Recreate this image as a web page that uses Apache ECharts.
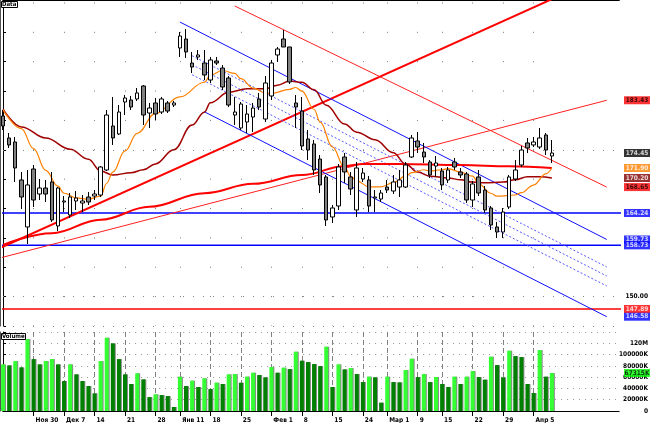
<!DOCTYPE html>
<html><head><meta charset="utf-8">
<script src="https://cdn.jsdelivr.net/npm/echarts@6/dist/echarts.min.js"></script>
<style>html,body{margin:0;padding:0;background:#fff}#c{width:650px;height:423px}</style>
</head><body><div id="c"></div>
<script>
// ---------------- DATA ----------------
const dates = [
'2009-11-23','2009-11-24','2009-11-25','2009-11-26','2009-11-27',
'2009-11-30','2009-12-01','2009-12-02','2009-12-03','2009-12-04',
'2009-12-07','2009-12-08','2009-12-09','2009-12-10','2009-12-11',
'2009-12-14','2009-12-15','2009-12-16','2009-12-17','2009-12-18',
'2009-12-21','2009-12-22','2009-12-23','2009-12-24','2009-12-25',
'2009-12-28','2009-12-29','2009-12-30','2009-12-31',
'2010-01-11','2010-01-12','2010-01-13','2010-01-14','2010-01-15',
'2010-01-18','2010-01-19','2010-01-20','2010-01-21','2010-01-22',
'2010-01-25','2010-01-26','2010-01-27','2010-01-28','2010-01-29',
'2010-02-01','2010-02-02','2010-02-03','2010-02-04','2010-02-05',
'2010-02-08','2010-02-09','2010-02-10','2010-02-11','2010-02-12',
'2010-02-15','2010-02-16','2010-02-17','2010-02-18','2010-02-19',
'2010-02-24','2010-02-25','2010-02-26','2010-02-27',
'2010-03-01','2010-03-02','2010-03-03','2010-03-04','2010-03-05',
'2010-03-09','2010-03-10','2010-03-11','2010-03-12',
'2010-03-15','2010-03-16','2010-03-17','2010-03-18','2010-03-19',
'2010-03-22','2010-03-23','2010-03-24','2010-03-25','2010-03-26',
'2010-03-29','2010-03-30','2010-03-31','2010-04-01','2010-04-02',
'2010-04-05','2010-04-06','2010-04-07','2010-04-08'];

const open = [180.75,177.01,176.33,169.86,161.86,171.73,167.47,168.49,169.52,162.03,
166.11,163.90,166.28,165.94,166.96,167.13,167.30,171.56,179.05,177.69,
183.14,183.48,183.65,185.86,181.26,182.97,181.43,182.97,182.62,192.33,
193.86,189.77,190.80,189.77,186.88,190.12,188.92,187.22,180.92,178.71,
179.73,180.58,183.65,180.24,184.16,191.14,193.86,192.50,182.97,181.60,
176.84,175.99,173.43,170.37,163.56,165.43,173.77,170.37,164.75,170.03,
169.86,166.79,166.62,168.66,167.98,168.66,168.66,173.77,176.50,174.62,
172.92,172.24,171.39,169.86,172.92,171.22,170.88,166.45,170.37,168.15,
165.09,161.86,161.00,165.26,170.03,172.41,176.16,175.82,175.47,177.52,
173.94];
const close = [179.05,175.82,171.90,166.96,169.01,166.45,168.49,167.47,163.05,168.49,
166.28,166.96,166.79,166.28,166.11,167.47,172.07,180.92,177.01,181.43,
183.82,182.28,184.67,180.92,182.11,181.09,183.65,181.60,182.97,194.37,
191.65,189.09,191.14,187.73,190.29,189.77,185.69,182.62,181.43,182.79,
181.09,182.11,182.28,186.37,189.77,192.16,192.50,186.54,182.28,175.64,
174.96,171.56,169.01,163.05,165.09,172.07,171.22,168.32,171.90,171.05,
165.43,166.96,167.64,168.15,169.52,169.86,172.41,177.01,175.47,173.77,
170.71,172.75,169.01,171.56,172.07,170.71,166.45,169.18,167.64,164.75,
162.20,161.00,164.41,170.37,171.56,174.96,175.30,176.33,177.01,174.96,
174.45];
const low = [178.37,175.30,169.52,164.92,158.96,165.26,166.45,166.11,162.71,161.17,
164.41,163.39,164.75,164.41,165.60,166.45,166.96,171.39,175.82,177.52,
180.92,181.77,183.31,179.22,178.71,180.07,181.09,181.26,182.28,190.80,
190.63,188.07,190.29,186.88,186.37,189.43,185.18,182.28,179.22,178.37,
177.86,178.03,181.77,179.73,183.48,189.94,192.50,186.20,178.71,174.96,
173.26,170.71,167.64,162.03,162.54,164.75,169.35,167.30,163.56,169.52,
164.41,164.41,166.11,167.64,167.47,166.96,168.49,173.60,174.45,172.75,
170.20,170.37,168.15,169.35,171.56,170.20,165.94,165.26,167.13,164.24,
161.34,159.98,159.98,164.92,169.69,172.07,174.45,175.47,175.13,174.11,
172.75];
const high = [181.77,177.86,177.18,171.22,171.56,172.41,170.03,169.86,171.22,168.66,
167.13,167.64,167.98,167.30,167.81,168.15,172.24,181.77,183.99,182.62,
184.33,184.16,185.52,186.03,182.97,183.82,183.99,183.31,183.31,195.05,
195.56,191.65,191.99,191.99,190.80,190.80,189.43,187.56,183.99,183.14,
182.62,182.97,184.67,187.56,190.29,192.50,195.39,192.50,184.33,183.99,
178.37,176.67,174.11,170.71,165.60,172.58,174.45,171.22,172.92,171.90,
170.54,168.15,168.15,169.86,170.71,171.56,172.92,177.52,178.03,176.16,
173.26,173.94,171.90,172.07,173.60,171.90,171.22,169.69,171.56,168.84,
165.43,162.71,165.09,170.71,173.26,175.64,177.01,177.18,178.71,177.86,
176.67];
// volume, thousands of shares
const volume = [82600,80800,88500,77300,127400,92000,82600,88500,92000,82600,
53100,82600,64900,53100,44200,31300,88500,129800,119800,92000,
64900,47800,66700,56000,24800,29500,28300,26500,7100,60800,
44200,53700,42500,57800,38900,50100,47800,64900,65500,50100,
60800,67800,63700,59600,77900,67800,76700,74300,105000,89100,
86700,83200,79600,113900,42500,82600,73700,76100,65500,51300,
60800,59600,14700,60800,51300,50700,72600,92600,60200,65500,
51300,60200,47800,42500,60800,47800,60800,70800,60200,55500,
96200,81400,59600,106800,97300,95600,47800,31900,108000,60800,
67315];

const tickDates = ['2009-11-30','2009-12-07','2009-12-14','2009-12-21','2009-12-28','2010-01-11',
'2010-01-18','2010-01-25','2010-02-01','2010-02-08','2010-02-15','2010-02-24','2010-03-01',
'2010-03-09','2010-03-15','2010-03-22','2010-03-29','2010-04-05'];
const tickLabels = ['Ноя 30','Дек 7','14','21','28','Янв 11','18','25','Фев 1','8','15','24','Мар 1','9','15','22','29','Апр 5'];

// moving averages: [bar index, price]
const maShort = [[0,181.8],[3,178.6],[5,175.2],[7,171.5],[9,168.8],[10,167.6],[12,166.8],[14,166.6],[16,167.1],[17,169.3],[18,171.2],[20,174.8],[22,177.8],[25,181.2],[29,184.0],[33,186.5],[34,187.7],[36,188.5],[38,188.0],[39,187.1],[41,185.5],[43,184.7],[44,184.6],[47,185.3],[48,185.6],[49,185.0],[51,181.9],[52,179.7],[54,175.5],[56,172.0],[57,170.5],[58,169.7],[60,168.7],[62,168.7],[64,169.4],[66,170.5],[67,171.1],[69,171.6],[70,171.4],[72,171.6],[73,171.8],[75,171.2],[77,170.5],[78,169.2],[80,167.6],[81,167.1],[84,167.3],[85,167.7],[87,169.0],[89,170.9],[90,171.9]];
const maMid = [[0,181.9],[3,178.9],[7,177.0],[11,175.1],[14,173.4],[16,171.4],[18,170.7],[21,171.1],[23,171.6],[25,172.6],[28,175.0],[31,179.2],[33,181.4],[34,183.0],[37,184.8],[40,185.4],[43,185.4],[45,186.0],[47,186.7],[49,186.5],[51,185.2],[53,182.6],[56,179.4],[58,178.0],[61,176.7],[64,174.5],[66,172.6],[68,171.2],[70,170.5],[73,170.2],[75,169.9],[77,169.5],[79,169.4],[82,169.5],[84,169.9],[86,170.4],[88,170.4],[90,170.2]];
const maLong = [[0,158.8],[8,160.8],[16,163.1],[24,165.3],[33,167.6],[41,169.2],[49,170.7],[56,172.2],[59,172.6],[65,172.6],[75,172.4],[83,172.2],[90,171.9]];

// trend lines: [bar index, price] end points
const trendA = [[-0.5,158.28],[101.5,206.03]];
const trendC = [[-0.5,156.58],[99,183.43]];
const trendD = [[38,199.48],[99,168.65]];
const channelTop = [[29,196.75],[99,159.73]];
const channelBottom = [[33,181.48],[99,146.58]];
const channelMid1 = [[31,191.01],[99,155.05]];
const channelMid2 = [[31,189.47],[99,153.51]];
const channelMid3 = [[31,187.77],[99,151.81]];
const blueLevels = [164.24, 158.73];
const redLevels = [147.89];

// ---------------- LAYOUT ----------------
const N = dates.length;
const FUTURE = 11;
const cats = dates.concat(Array.from({length: FUTURE}, (_, k) => 'f' + k));
const XMAX = cats.length - 1;
const XL = -0.5, XR = XMAX + 0.5;
const LABEL_X = XMAX + 2.96;
const tickText = {};
tickDates.forEach((d, k) => { tickText[dates.indexOf(d)] = tickLabels[k]; });
const isTick = (i) => tickText[i] !== undefined;
const FONT = "'DejaVu Sans Condensed','DejaVu Sans',sans-serif";

const ohlc = open.map((o, i) => [o, close[i], low[i], high[i]]);
const volData = volume.map((v, i) => ({value: v, itemStyle: {color: (i === 0 || v >= volume[i - 1]) ? '#33ff33' : '#008000'}}));
const last = a => a[a.length - 1][1];
const hline = v => [[XL, v], [XR, v]];

const priceTags = [
  {v: last(trendC), bg: '#ff0000', fg: '#000'},
  {v: close[N - 1], bg: '#000000', fg: '#fff'},
  {v: last(maShort), bg: '#ff8000', fg: '#fff'},
  {v: last(maMid), bg: '#800000', fg: '#fff'},
  {v: last(trendD), bg: '#ff0000', fg: '#000'},
  {v: blueLevels[0], bg: '#0000ff', fg: '#fff'},
  {v: last(channelTop), bg: '#0000ff', fg: '#fff'},
  {v: blueLevels[1], bg: '#0000ff', fg: '#fff'},
  {v: redLevels[0], bg: '#ff0000', fg: '#fff'},
  {v: last(channelBottom), bg: '#0000ff', fg: '#fff'}
];

const lineS = (data, color, width, type, z) => ({
  type: 'line', xAxisIndex: 1, yAxisIndex: 0, data, showSymbol: false, symbol: 'none',
  clip: false, silent: true, z: z || 3,
  lineStyle: {color, width, type: type || 'solid'}
});
const maS = (data, color, width) => Object.assign(lineS(data, color, width), {smooth: 0.4, smoothMonotone: 'x'});

const axisFont = {fontSize: 6.5, fontWeight: 'bold', color: '#000', fontFamily: FONT};

const chart = echarts.init(document.getElementById('c'));
chart.setOption({
  animation: false,
  backgroundColor: '#fff',
  title: [
    {text: 'Data', left: 1, top: 1, padding: [0, 1, 0, 1], borderColor: '#000', borderWidth: 1, backgroundColor: '#fff',
     textStyle: Object.assign({}, axisFont, {fontSize: 6, lineHeight: 7})},
    {text: 'Volume', left: 1, top: 333, padding: [0, 1, 0, 1], borderColor: '#000', borderWidth: 1, backgroundColor: '#fff',
     textStyle: Object.assign({}, axisFont, {fontSize: 6, lineHeight: 7})}
  ],
  grid: [
    {left: 3.05, top: 0, width: 615.9, height: 326, outerBoundsMode: 'none', containLabel: false},
    {left: 3.05, top: 332, width: 615.9, height: 79, outerBoundsMode: 'none', containLabel: false}
  ],
  xAxis: [
    {type: 'category', gridIndex: 0, data: cats, boundaryGap: false, position: 'top',
     axisLine: {show: true, lineStyle: {color: '#000', width: 2}}, axisTick: {show: false}, axisLabel: {show: false},
     splitLine: {show: true, interval: (i) => isTick(i), lineStyle: {color: '#7a7a7a', width: 1, type: [1, 28.37], dashOffset: -2.43}}},
    {type: 'value', gridIndex: 0, min: 0, max: XMAX, show: false},
    {type: 'category', gridIndex: 1, data: cats, boundaryGap: false, position: 'bottom', offset: 5,
     axisLine: {show: true, lineStyle: {color: '#000'}},
     axisTick: {show: true, interval: (i) => isTick(i), length: 5, lineStyle: {color: '#000'}},
     axisLabel: Object.assign({interval: (i) => isTick(i), formatter: (v, i) => tickText[i] || '', align: 'left', margin: 1, padding: [0, 0, 0, 2], hideOverlap: false}, axisFont),
     splitLine: {show: true, interval: (i) => isTick(i), lineStyle: {color: '#808080', width: 1, type: [5, 3]}}},
    {type: 'category', gridIndex: 1, data: cats, boundaryGap: false, position: 'top',
     axisLine: {show: true, lineStyle: {color: '#000'}}, axisTick: {show: false}, axisLabel: {show: false}, splitLine: {show: false}},
    {type: 'value', gridIndex: 1, min: 0, max: XMAX, show: false}
  ],
  yAxis: [
    {type: 'value', gridIndex: 0, position: 'right', offset: 4, min: 145, max: 200.5, interval: 5,
     axisLine: {show: true, lineStyle: {color: '#000'}}, axisTick: {show: true, length: 3, lineStyle: {color: '#000'}},
     axisLabel: Object.assign({formatter: v => v === 150 ? '150.00' : '', align: 'right', margin: 25}, axisFont), splitLine: {show: false}},
    {type: 'value', gridIndex: 1, position: 'right', offset: 4, min: 0, max: 140000, interval: 20000,
     axisLine: {show: true, lineStyle: {color: '#000'}}, axisTick: {show: true, length: 3, lineStyle: {color: '#000'}},
     axisLabel: Object.assign({formatter: v => v === 0 ? '0' : (v >= 140000 ? '' : (v >= 120000 ? (v / 1000) + 'M' : v + 'K')), align: 'right', margin: 25}, axisFont),
     splitLine: {show: true, lineStyle: {color: '#9a9a9a', width: 1, type: [1, 5]}}},
    {type: 'value', gridIndex: 0, position: 'left', offset: 3, min: 145, max: 200.5,
     axisLine: {show: true, lineStyle: {color: '#555'}}, axisTick: {show: false}, axisLabel: {show: false}, splitLine: {show: false}},
    {type: 'value', gridIndex: 1, position: 'left', offset: 3, min: 0, max: 140000,
     axisLine: {show: true, lineStyle: {color: '#555'}}, axisTick: {show: false}, axisLabel: {show: false}, splitLine: {show: false}}
  ],
  series: [
    lineS(hline(blueLevels[0]), '#0000ff', 1.5),
    lineS(hline(blueLevels[1]), '#0000ff', 1.5),
    lineS(hline(redLevels[0]), '#ff0000', 1.5),
    lineS(trendA, '#ff0000', 2),
    lineS(trendC, '#ff2020', 1),
    lineS(trendD, '#ff2020', 1),
    lineS(channelTop, '#1010ff', 1),
    lineS(channelBottom, '#1010ff', 1),
    lineS(channelMid1, '#5a5aff', 1, [2, 2]),
    lineS(channelMid2, '#5a5aff', 1, [2, 2]),
    lineS(channelMid3, '#5a5aff', 1, [2, 2]),
    maS(maLong, '#ff0000', 2),
    maS(maMid, '#a00000', 1.5),
    maS(maShort, '#ff8000', 1.2),
    {type: 'candlestick', xAxisIndex: 0, yAxisIndex: 0, data: ohlc, barWidth: 4, clip: false, z: 5,
     itemStyle: {color: '#ffffff', color0: '#808080', borderColor: '#000', borderColor0: '#000', borderWidth: 1},
     markLine: {silent: true, symbol: ['none', 'none'], label: {show: false},
       lineStyle: {color: '#808080', width: 1, type: [1, 9]},
       data: [{yAxis: 175}, {yAxis: 150}, {yAxis: 145}]}},
    {type: 'bar', xAxisIndex: 2, yAxisIndex: 1, data: volData, barWidth: 4, clip: false,
     itemStyle: {shadowColor: '#8a8a8a', shadowOffsetX: 1, shadowBlur: 0}},
    {type: 'scatter', xAxisIndex: 1, yAxisIndex: 0, clip: false, silent: true, symbol: 'rect', symbolSize: [26, 8], z: 10,
     data: priceTags.map(t => ({value: [LABEL_X, t.v], itemStyle: {color: t.bg}, label: {color: t.fg}})),
     label: {show: true, position: 'inside', formatter: p => p.value[1].toFixed(2), fontSize: 6.5, fontWeight: 'bold', fontFamily: FONT}},
    {type: 'scatter', xAxisIndex: 4, yAxisIndex: 1, clip: false, silent: true, symbol: 'rect', symbolSize: [26, 8], z: 10,
     data: [{value: [LABEL_X, volume[N - 1]], itemStyle: {color: '#00ff00'}}],
     label: {show: true, position: 'inside', color: '#000', formatter: p => Math.round(p.value[1]) + 'K', fontSize: 6.5, fontWeight: 'bold', fontFamily: FONT}}
  ]
});
</script></body></html>
